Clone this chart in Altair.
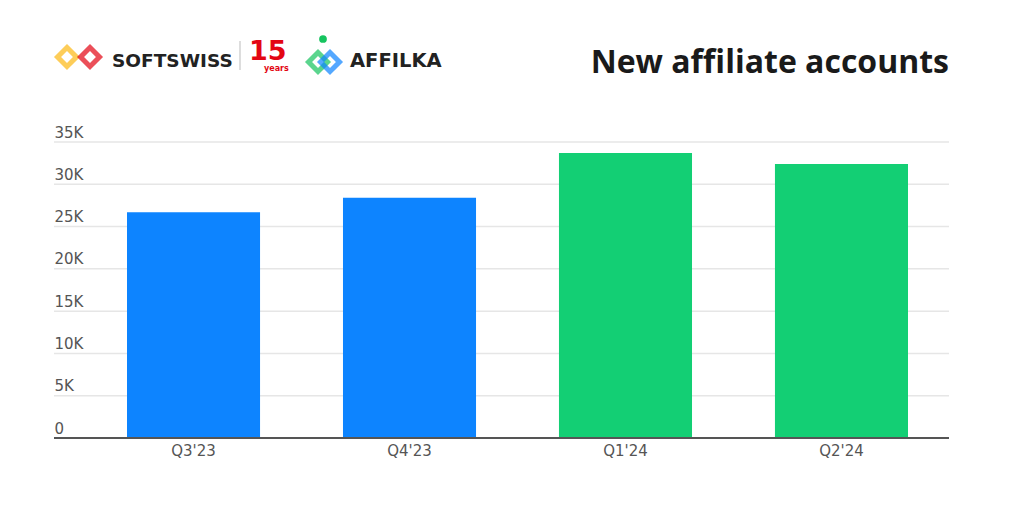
import altair as alt
import pandas as pd

quarters = ["Q3'23", "Q4'23", "Q1'24", "Q2'24"]
accounts = [26700, 28400, 33700, 32400]
bar_colors = ["#0D84FF", "#0D84FF", "#13CF74", "#13CF74"]
y_ticks = [0, 5000, 10000, 15000, 20000, 25000, 30000, 35000]
title_text = "New affiliate accounts"

W, H = 895, 296
df = pd.DataFrame({"q": quarters, "v": accounts, "c": bar_colors})
ydom = alt.Scale(domain=[0, 35000], nice=False)
yaxis = alt.Axis(values=y_ticks, domain=False, ticks=False, tickSize=0, grid=False,
                 labelAlign="left", labelBaseline="alphabetic", labelPadding=0,
                 labelOffset=-5, labelColor="#555555", labelFontSize=15,
                 labelFont="DejaVu Sans",
                 labelExpr="datum.value == 0 ? '0' : (datum.value/1000) + 'K'")

grid = alt.Chart(pd.DataFrame({"v": y_ticks})).mark_rule(color="#E6E6E6", strokeWidth=1.5).encode(
    y=alt.Y("v:Q", scale=ydom, title=None, axis=yaxis),
    x=alt.value(0), x2=alt.value(W))

bars = alt.Chart(df).mark_bar().encode(
    x=alt.X("q:N", sort=quarters, title=None,
            scale=alt.Scale(range=[73, 854], paddingInner=0.384, paddingOuter=0),
            axis=alt.Axis(domain=False, ticks=False, labelColor="#555555", labelFontSize=15,
                          labelFont="DejaVu Sans", labelPadding=5, labelAngle=0, grid=False)),
    y=alt.Y("v:Q", scale=ydom, title=None, axis=yaxis),
    color=alt.Color("c:N", scale=None, legend=None),
)

baseline = alt.Chart(pd.DataFrame({"a": [0]})).mark_rule(color="#555555", strokeWidth=2).encode(
    x=alt.value(0), x2=alt.value(W), y=alt.value(H))

title = alt.Chart(pd.DataFrame({"t": [title_text]})).mark_text(
    align="right", baseline="alphabetic", font="Open Sans", fontSize=32,
    fontWeight="bold", color="#1A1A1A"
).encode(x=alt.value(W), y=alt.value(-69), text="t:N")

brand = pd.DataFrame({
    "t": ["SOFTSWISS", "AFFILKA"],
    "x": [58, 296],
    "y": [-75, -75],
    "s": [18.5, 19.5],
})
brand_text = alt.Chart(brand).mark_text(
    align="left", baseline="alphabetic", font="DejaVu Sans",
    fontWeight="bold", color="#222222"
).encode(x=alt.X("x:Q", scale=None), y=alt.Y("y:Q", scale=None), text="t:N",
         size=alt.Size("s:Q", scale=None, legend=None))

fifteen = alt.Chart(pd.DataFrame({"t": ["15"]})).mark_text(
    align="left", baseline="alphabetic", font="DejaVu Sans", fontSize=27,
    fontWeight="bold", color="#E30613"
).encode(x=alt.value(195), y=alt.value(-82), text="t:N")
years = alt.Chart(pd.DataFrame({"t": ["years"]})).mark_text(
    align="left", baseline="alphabetic", font="DejaVu Sans", fontSize=8,
    fontWeight="bold", color="#E30613"
).encode(x=alt.value(210), y=alt.value(-71), text="t:N")

sep = alt.Chart(pd.DataFrame({"a": [0]})).mark_rule(color="#BBBBBB", strokeWidth=1).encode(
    x=alt.value(186), y=alt.value(-101), y2=alt.value(-72))

icons = pd.DataFrame({
    "x": [13, 36, 264, 276],
    "y": [-85, -85, -80, -80],
    "c": ["#FDB813", "#E30613", "#16C45F", "#0D84FF"],
})
icon_marks = alt.Chart(icons).mark_square(angle=45, filled=False, strokeWidth=5, size=180).encode(
    x=alt.X("x:Q", scale=None), y=alt.Y("y:Q", scale=None),
    color=alt.Color("c:N", scale=None, legend=None))
dot = alt.Chart(pd.DataFrame({"a": [0]})).mark_circle(color="#16C45F", size=60, opacity=1).encode(
    x=alt.value(269), y=alt.value(-103))

chart = alt.layer(grid, bars, baseline, title, brand_text, fifteen, years, sep, icon_marks, dot).properties(
    width=W, height=H,
    autosize=alt.AutoSizeParams(type="none"),
    padding={"left": 46, "top": 134, "right": 60, "bottom": 60},
).configure(background="white").configure_view(strokeWidth=0)

chart.save("out.html", embed_options={"renderer": "svg", "actions": False})
